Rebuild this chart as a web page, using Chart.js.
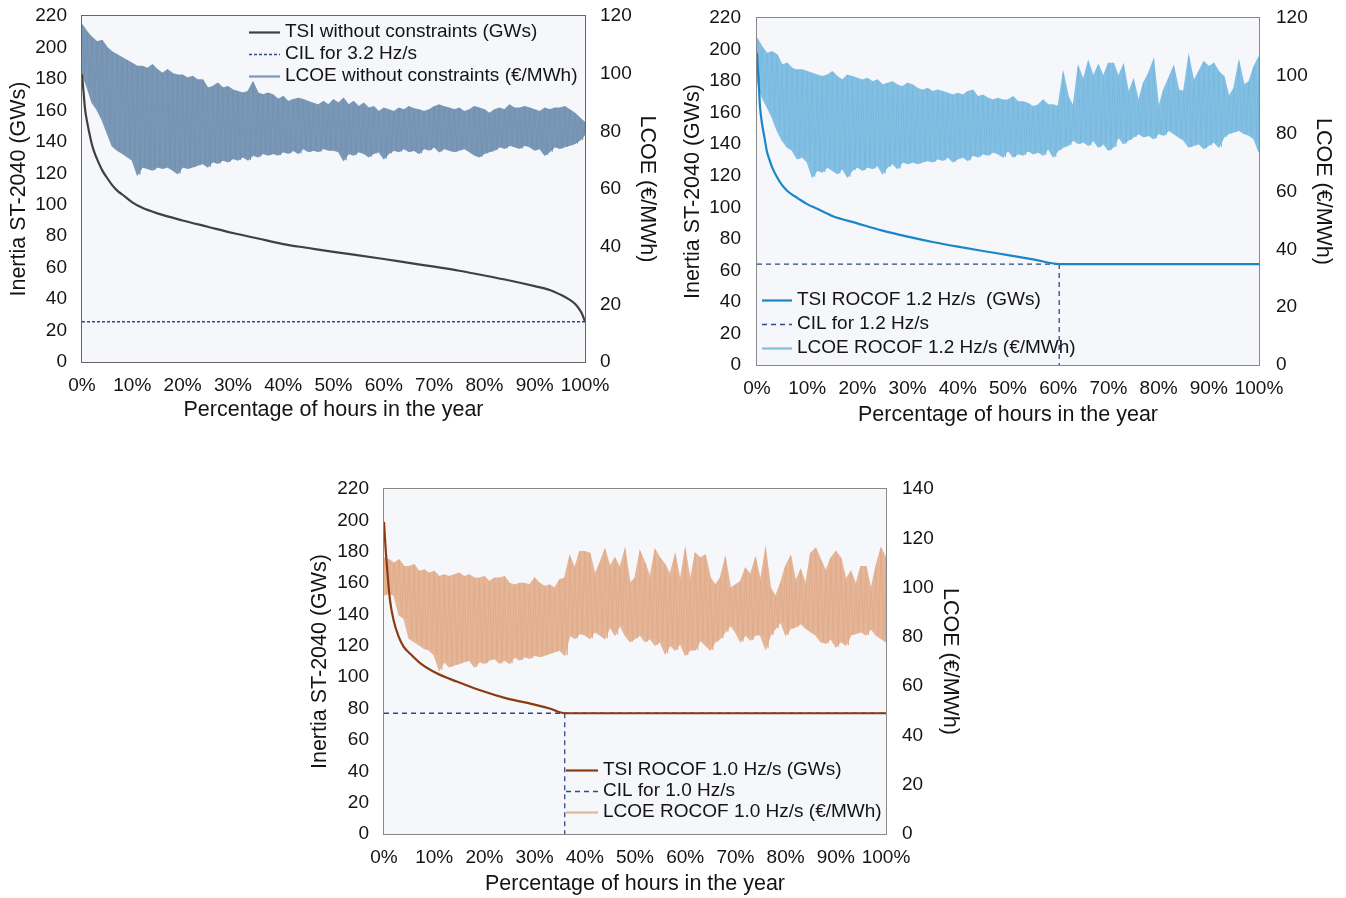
<!DOCTYPE html>
<html>
<head>
<meta charset="utf-8">
<script src="https://cdn.jsdelivr.net/npm/chart.js@4/dist/chart.umd.min.js"></script>
<style>
  html, body { margin: 0; padding: 0; background: #ffffff; }
  body { position: relative; width: 1346px; height: 898px; overflow: hidden; }
  canvas { position: absolute; }
</style>
</head>
<body>
<canvas id="c1" width="670" height="430" style="left:0px;top:0px"></canvas>
<canvas id="c2" width="666" height="430" style="left:680px;top:0px"></canvas>
<canvas id="c3" width="680" height="428" style="left:300px;top:470px"></canvas>
<script>
// ---- Shared axis text ----
const xTitle = 'Percentage of hours in the year';
const yLeftTitle = 'Inertia ST-2040 (GWs)';
const yRightTitle = 'LCOE (\u20AC/MWh)';

// ---- Panel 1: no ROCOF constraint ----
const names1 = ['TSI without constraints (GWs)', 'CIL for 3.2 Hz/s', 'LCOE without constraints (\u20AC/MWh)'];
const tsiPct1 = [0, 0.3, 0.6, 1, 1.5, 2, 2.5, 3, 4, 5, 6, 7, 8, 10, 12, 15, 20, 25, 30, 35, 40, 45, 50, 55, 60, 65, 70, 75, 80, 85, 90, 93, 95, 97, 98, 99, 99.5, 100];
const tsiGws1 = [183, 172, 161, 153, 145, 138, 133, 129, 122, 117, 112.5, 109, 106.5, 101.5, 98, 94.5, 90, 86, 82, 78.5, 75, 72.5, 70, 67.8, 65.5, 63, 60.6, 58, 55, 51.8, 48.2, 45.8, 43, 39.5, 37, 33, 30, 25.6];
const cil1 = 25.6;
// LCOE band: highs and lows of the hourly series, one pair per 1 % of hours (0 % .. 100 %)
const lcoeHi1 = [117, 114.5, 112.5, 111, 111.5, 109, 107.5, 106.5, 105.5, 104.5,
  103.5, 102.5, 102.5, 101.8, 103, 101.3, 100, 101.3, 100, 99.5,
  99.5, 98.4, 99, 97.8, 97.8, 95, 95.5, 96.6, 95, 95.5,
  94.3, 93.8, 93.2, 93.8, 97, 93.2, 92.6, 93.2, 92.6, 91,
  92, 90.3, 91, 91.4, 91, 90.3, 89.7, 89.1, 90.3, 89.1,
  90.9, 89.7, 91.4, 89.1, 90.3, 88.5, 89.7, 88, 88.5, 86.8,
  88, 87.4, 86.8, 88, 87.4, 88.5, 87.8, 87.4, 86.8, 87.4,
  88.5, 89.1, 88.5, 88, 87.4, 88, 86.8, 87.4, 88.5, 88,
  87.4, 86.2, 87.4, 88, 87.4, 89.1, 88, 88, 88.5, 88,
  87.4, 86.8, 88, 87.4, 88, 88, 88.5, 87.4, 86.2, 84.5,
  83];
const lcoeLo1 = [100, 95.5, 90, 87.5, 84, 79.5, 75, 73.5, 72.4, 71.2,
  70, 65, 67.7, 67.2, 66.6, 67.7, 67.2, 67.7, 66.6, 65.4,
  67.7, 67.2, 67.7, 68.3, 68.9, 67.7, 69.5, 68.9, 70.1, 69.5,
  70.6, 70.1, 71.2, 70.1, 71.8, 71.2, 72.4, 71.8, 72.4, 71.8,
  73, 72.4, 73.5, 72.4, 74.1, 73, 73.5, 73, 74.1, 73.5,
  73.5, 73, 70, 72.4, 71.8, 73, 72.4, 71.2, 72.4, 73,
  70.6, 72.4, 73.5, 73, 74.1, 73, 73.5, 72.4, 74.1, 73.5,
  74.7, 73, 74.1, 73.5, 73, 73.5, 74.1, 73, 71.8, 71.2,
  72.4, 73, 73.5, 74.7, 74.1, 75.2, 74.7, 74.1, 75.2, 74.7,
  73.5, 74.1, 71.8, 73, 74.7, 74.1, 74.7, 75.2, 75.8, 77,
  79];

// ---- Panel 2: ROCOF 1.2 Hz/s ----
const names2 = ['TSI ROCOF 1.2 Hz/s  (GWs)', 'CIL for 1.2 Hz/s', 'LCOE ROCOF 1.2 Hz/s (\u20AC/MWh)'];
const tsiPct2 = [0, 0.3, 0.6, 1, 1.5, 2, 2.5, 3, 4, 5, 6, 7, 8, 10, 12, 15, 20, 25, 30, 35, 40, 45, 50, 55, 60.2, 100];
const tsiGws2 = [198, 182, 164, 153, 144, 135, 130, 125.5, 119, 114, 110.5, 108, 106, 102, 99, 94.5, 89.8, 85.2, 81.4, 78, 75, 72.3, 69.7, 67, 64, 64];
const cil2 = 64;
const cilCross2 = 60.2;
const lcoeHi2 = [113, 110, 107.7, 108.3, 107.2, 103.7, 104.3, 102.5, 102, 102,
  101.4, 100.8, 100.2, 99.7, 100.2, 101.4, 99.7, 98.5, 100.2, 99.7,
  99.1, 98.5, 99.1, 97.9, 98.5, 96.8, 97.4, 97.9, 96.8, 96.2,
  97.4, 96.8, 95.6, 95, 95.6, 94.5, 95, 94.5, 93.9, 93.3,
  93.9, 93.3, 94.5, 95, 92.7, 93.3, 92.2, 91.6, 92.2, 91.6,
  91.6, 92.7, 91, 91, 90.4, 89.3, 89.9, 91.6, 89.9, 89.9,
  89.3, 100.8, 92.7, 89.3, 103.1, 98.5, 104.8, 99.7, 103.7, 99.7,
  104.3, 104.3, 99.7, 103.7, 93.9, 98.5, 91, 97.4, 100.8, 105.4,
  88.7, 95, 99.1, 103.1, 95, 94.5, 106.6, 98, 101.4, 104.8,
  103.1, 104.3, 101.4, 99.7, 92.7, 95.6, 104.8, 96.8, 97.9, 103.1,
  106.6];
const lcoeLo2 = [98.5, 92.7, 89.3, 85.8, 81.2, 77.8, 75.4, 74.3, 71.4, 72,
  70.3, 65.1, 67.4, 66.8, 68.5, 67.4, 66.2, 68, 65.1, 67.4,
  68.5, 67.4, 68.5, 68, 69.1, 66.2, 68.5, 69.7, 68, 70.3,
  69.7, 70.3, 69.7, 70.3, 70.8, 70.3, 71.4, 70.8, 72, 70.3,
  71.4, 72, 70.8, 72.6, 72, 73.1, 72.6, 73.7, 73.1, 72,
  74.3, 72, 73.1, 72.6, 74.3, 73.1, 73.7, 72.6, 74.9, 72,
  74.3, 75.4, 76, 77.8, 76.6, 77.2, 76, 77.8, 75.4, 76.6,
  74.3, 75.4, 78.9, 76.6, 77.8, 78.9, 80.1, 78.9, 79.5, 78.3,
  80.1, 79.5, 81.2, 80.1, 78.9, 77.8, 75.4, 76, 76.6, 74.9,
  76, 77.2, 75.4, 78.9, 80.1, 80.6, 81.2, 80.1, 79.5, 78.3,
  73.7];

// ---- Panel 3: ROCOF 1.0 Hz/s ----
const names3 = ['TSI ROCOF 1.0 Hz/s (GWs)', 'CIL for 1.0 Hz/s', 'LCOE ROCOF 1.0 Hz/s (\u20AC/MWh)'];
const tsiPct3 = [0, 0.3, 0.7, 1.2, 1.9, 2.9, 3.9, 5.2, 7.2, 10.5, 14.5, 19, 24.4, 30, 33, 36, 100];
const tsiGws3 = [199, 183, 166, 149, 136.5, 126, 119.5, 115, 109, 102.5, 97.2, 91.8, 86.5, 82.5, 80, 77, 77];
const cil3 = 77;
const cilCross3 = 36;
const lcoeHi3 = [112, 111.2, 109.8, 111.2, 108.5, 108.5, 109.2, 106.5, 107.1, 105.8,
  106.5, 104.4, 105.1, 104.4, 105.1, 105.8, 104.4, 105.1, 103.8, 103.8,
  104.4, 102.4, 103.8, 103.8, 104.4, 101.7, 101, 101.7, 101.7, 101,
  103.8, 101.7, 100.4, 101, 99.7, 103.1, 103.8, 112.6, 107.8, 114.6,
  114.6, 113.9, 105.1, 109.9, 115.3, 108.5, 111.9, 107.8, 115.3, 101.7,
  103.8, 114.6, 109.9, 103.8, 115.3, 111.9, 109.2, 105.1, 113.2, 102.4,
  115.3, 102.4, 113.9, 111.9, 113.2, 103.8, 101, 103.8, 111.9, 99.7,
  101, 102.4, 107.8, 105.1, 111.9, 102.4, 115.3, 99.7, 96.3, 101.7,
  108.5, 112.6, 102.4, 107.1, 101, 113.9, 115.9, 111.2, 106.5, 111.9,
  114.6, 111.9, 103.1, 106.5, 101, 108.5, 108.5, 99, 108.5, 115.9,
  111.9];
const lcoeLo3 = [97, 97.7, 97, 88.9, 87.5, 79.4, 78.1, 76.7, 75.3, 74.7,
  72.6, 66.6, 70, 67.9, 68.6, 69.3, 70, 70.6, 67.9, 70,
  69.3, 70.6, 71.3, 69.3, 70.6, 69.3, 72, 70.6, 72, 71.3,
  72.6, 72, 72.6, 73.3, 74, 74.7, 72.6, 80.8, 79.4, 81.4,
  80.8, 79.4, 82.1, 80.8, 79.4, 84.1, 80.8, 84.8, 80.8, 78.1,
  79.4, 80.8, 78.1, 79.4, 76.7, 78.1, 73.3, 76.7, 74.7, 77.4,
  72.6, 74.7, 74.7, 78.7, 76.7, 74.7, 78.1, 79.4, 82.1, 84.8,
  82.1, 78.1, 80.8, 78.7, 80.8, 80.8, 75.3, 80.8, 83.5, 86.2,
  80.8, 83.5, 84.1, 85.5, 83.5, 82.1, 80.8, 78.1, 77.4, 79.4,
  76, 78.1, 76.7, 80.8, 81.4, 82.1, 80.8, 83.5, 80.8, 79.4,
  78];

// ---- Rendering ----
const FONT = '"Liberation Sans", Arial, Helvetica, sans-serif';
const TEXT = '#141414';
Chart.defaults.font.family = FONT;

const pts = (xs, ys) => xs.map((x, i) => ({ x: x, y: ys[i] }));
const samplePts = ys => ys.map((y, i) => ({ x: i, y: y }));
// the hourly series swinging between its highs and lows (low half a step after each high)
function swingPts(hi, lo) {
  const out = [];
  hi.forEach((h, i) => {
    out.push({ x: i, y: h });
    out.push({ x: i < hi.length - 1 ? i + 0.5 : i, y: lo[i] });
  });
  return out;
}

// plot background and frame
const framePlugin = {
  id: 'frame',
  beforeDraw(chart, args, o) {
    const { left, top, width, height } = chart.chartArea;
    const ctx = chart.ctx;
    ctx.save();
    ctx.fillStyle = o.bg;
    ctx.fillRect(left, top, width, height);
    ctx.restore();
  },
  afterDatasetsDraw(chart, args, o) {
    const { left, top, width, height } = chart.chartArea;
    const ctx = chart.ctx;
    ctx.save();
    ctx.strokeStyle = o.border;
    ctx.lineWidth = 1;
    ctx.strokeRect(left - 0.5, top - 0.5, width + 1, height + 1);
    ctx.restore();
  }
};

// legend drawn inside the plot area
const insideLegend = {
  id: 'insideLegend',
  afterDraw(chart, args, o) {
    const ctx = chart.ctx;
    ctx.save();
    ctx.font = o.size + 'px ' + FONT;
    ctx.textBaseline = 'middle';
    ctx.textAlign = 'left';
    o.items.forEach((it, k) => {
      const y = o.y + k * o.gap;
      ctx.beginPath();
      ctx.strokeStyle = it.color;
      ctx.lineWidth = it.width;
      ctx.setLineDash(it.dash || []);
      ctx.moveTo(o.x, y + 0.5);
      ctx.lineTo(o.x + o.len, y + 0.5);
      ctx.stroke();
      ctx.setLineDash([]);
      ctx.fillStyle = TEXT;
      ctx.fillText(it.text, o.x + o.len + o.pad, y);
    });
    ctx.restore();
  }
};

function buildChart(id, p) {
  const datasets = [
    { label: p.names[0], data: pts(p.tsiPct, p.tsiGws), yAxisID: 'y', borderColor: p.tsiColor, borderWidth: 2.2,
      pointRadius: 0, cubicInterpolationMode: 'monotone', fill: false },
    { label: p.names[1], data: [{ x: 0, y: p.cil }, { x: 100, y: p.cil }], yAxisID: 'y', borderColor: p.cilColor,
      borderWidth: 1.3, borderDash: p.cilDash, pointRadius: 0, fill: false },
  ];
  if (p.cilCross !== null) {
    datasets.push({ label: p.names[1], data: [{ x: p.cilCross, y: p.cil }, { x: p.cilCross, y: 0 }], yAxisID: 'y',
      borderColor: p.cilColor, borderWidth: 1.3, borderDash: p.cilDash, pointRadius: 0, fill: false });
  }
  datasets.push(
    // swinging hourly line, drawn over the filled band
    { label: p.names[2], data: swingPts(p.hi, p.lo), yAxisID: 'y1', borderColor: p.streakColor, borderWidth: 0.8,
      borderJoinStyle: 'bevel', pointRadius: 0, tension: 0, fill: false },
    { label: p.names[2], data: samplePts(p.hi), yAxisID: 'y1', borderColor: p.bandColor, borderWidth: 1.4,
      pointRadius: 0, tension: 0, fill: false },
    { label: p.names[2], data: samplePts(p.lo), yAxisID: 'y1', borderColor: p.bandColor, borderWidth: 1.4,
      pointRadius: 0, tension: 0, fill: '-1', backgroundColor: p.bandColor }
  );

  const tickFont = { size: 19, family: FONT };
  const titleFont = { size: 21.5, family: FONT };
  // vertical axes: keep the plot edge where the layout padding puts it
  const fixV = w => s => { s.width = w; s.paddingTop = 0; s.paddingBottom = 0; };

  return new Chart(document.getElementById(id), {
    type: 'line',
    data: { datasets: datasets },
    plugins: [framePlugin, insideLegend],
    options: {
      responsive: false,
      animation: false,
      devicePixelRatio: 1,
      layout: { padding: { top: p.padTop, left: 0, right: 0, bottom: 0 } },
      plugins: {
        legend: { display: false },
        tooltip: { enabled: false },
        frame: { bg: '#f5f7fb', border: p.frameColor },
        insideLegend: {
          x: p.legX, y: p.legY, gap: p.legGap, len: p.legLen, pad: 5, size: 19,
          items: [
            { text: p.names[0], color: p.tsiColor, width: 2.2 },
            { text: p.names[1], color: p.cilColor, width: 1.5, dash: p.cilDash },
            { text: p.names[2], color: p.bandColor, width: 2.2 }
          ]
        }
      },
      scales: {
        x: {
          type: 'linear', min: 0, max: 100,
          grid: { display: false, drawTicks: false }, border: { display: false },
          ticks: { stepSize: 10, autoSkip: false, maxRotation: 0, padding: p.xTickPad, color: TEXT, font: tickFont,
                   callback: v => v + '%' },
          title: { display: true, text: xTitle, color: TEXT, font: titleFont, padding: { top: 0, bottom: p.xTitlePad } },
          afterFit: s => { s.height = p.xH; }
        },
        y: {
          position: 'left', min: 0, max: 220,
          grid: { display: false, drawTicks: false }, border: { display: false },
          ticks: { stepSize: 20, padding: p.yTickPad, color: TEXT, font: tickFont },
          title: { display: true, text: yLeftTitle, color: TEXT, font: titleFont, padding: { top: p.yTitlePad, bottom: 0 } },
          afterFit: fixV(p.yW)
        },
        y1: {
          position: 'right', min: 0, max: p.rMax,
          grid: { display: false, drawTicks: false }, border: { display: false },
          ticks: { stepSize: 20, padding: p.rTickPad, color: TEXT, font: tickFont },
          title: { display: true, text: yRightTitle, color: TEXT, font: titleFont, padding: { top: p.rTitlePad, bottom: 0 } },
          afterFit: fixV(p.rW)
        }
      }
    }
  });
}

buildChart('c1', {
  names: names1, tsiPct: tsiPct1, tsiGws: tsiGws1, cil: cil1, cilCross: null, hi: lcoeHi1, lo: lcoeLo1,
  tsiColor: '#404040', cilColor: '#2f4a88', cilDash: [3, 2], bandColor: '#7b97b6', streakColor: '#7190b1',
  frameColor: '#666666',
  rMax: 120, padTop: 16, xH: 68, yW: 82, rW: 85,
  xTickPad: 12, xTitlePad: 7, yTickPad: 15, yTitlePad: 6, rTickPad: 15, rTitlePad: 10,
  legX: 249, legY: 32, legGap: 22, legLen: 31
});

buildChart('c2', {
  names: names2, tsiPct: tsiPct2, tsiGws: tsiGws2, cil: cil2, cilCross: cilCross2, hi: lcoeHi2, lo: lcoeLo2,
  tsiColor: '#1b86c6', cilColor: '#2f4a88', cilDash: [5, 4], bandColor: '#83bfe2', streakColor: '#77b8de',
  frameColor: '#888888',
  rMax: 120, padTop: 18, xH: 65, yW: 77, rW: 87,
  xTickPad: 12, xTitlePad: 2, yTickPad: 16, yTitlePad: 0, rTickPad: 17, rTitlePad: 10,
  legX: 82, legY: 300, legGap: 24, legLen: 30
});

buildChart('c3', {
  names: names3, tsiPct: tsiPct3, tsiGws: tsiGws3, cil: cil3, cilCross: cilCross3, hi: lcoeHi3, lo: lcoeLo3,
  tsiColor: '#8a3b10', cilColor: '#2f4a88', cilDash: [5, 4], bandColor: '#e5b597', streakColor: '#e0aa89',
  frameColor: '#888888',
  rMax: 140, padTop: 19, xH: 64, yW: 84, rW: 94,
  xTickPad: 12, xTitlePad: 1, yTickPad: 15, yTitlePad: 7, rTickPad: 16, rTitlePad: 17,
  legX: 266, legY: 300, legGap: 21, legLen: 32
});
</script>
</body>
</html>
